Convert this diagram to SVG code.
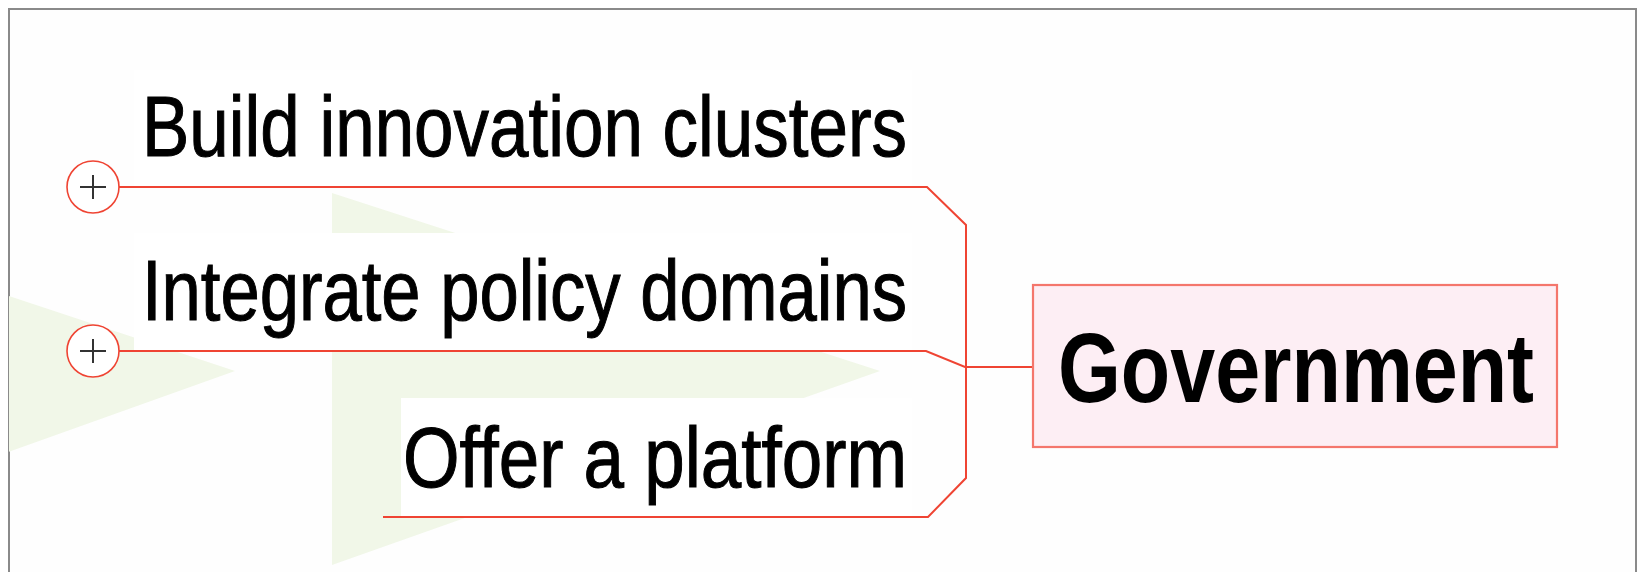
<svg xmlns="http://www.w3.org/2000/svg" width="1639" height="572" viewBox="0 0 1639 572">
  <style>
    .topic { font-family: "Liberation Sans", Arial, sans-serif; font-size: 71px; fill: #000; stroke: #000; stroke-width: 0.9; }
    .central { font-family: "Liberation Sans", Arial, sans-serif; font-size: 81px; font-weight: bold; fill: #000; }
    .conn { fill: none; stroke: #ef4433; stroke-width: 2; }
    .bg-rect { fill: #ffffff; }
    .toggle circle { fill: #ffffff; stroke: #ef4433; stroke-width: 1.6; }
    .toggle path { stroke: #333333; stroke-width: 2; fill: none; }
    .deco { fill: #f1f7e8; }
  </style>
  <defs>
    <clipPath id="frame">
      <rect x="9" y="9" width="1627" height="600"/>
    </clipPath>
  </defs>
  <rect x="0" y="0" width="1639" height="572" fill="#ffffff"/>
  <rect x="9" y="9" width="1627" height="600" fill="#fefefe" stroke="#8a8a8a" stroke-width="2"/>
  <g id="decoration" clip-path="url(#frame)">
    <polygon class="deco" points="0,293 235,371 0,455"/>
    <polygon class="deco" points="332,193 880,371 332,565"/>
  </g>
  <g id="connectors">
    <path class="conn" d="M119,187 H927 L966,225 V478 L928,517 H383"/>
    <path class="conn" d="M119,351 H926 L965,367 H1033"/>
  </g>
  <g id="node-build">
    <rect class="bg-rect" x="134" y="70" width="778" height="116"/>
    <text class="topic" transform="translate(142,156) scale(1,1.2)" x="0" y="0" textLength="765" lengthAdjust="spacingAndGlyphs">Build innovation clusters</text>
    <path class="conn" d="M119,187 H927"/>
  </g>
  <g id="node-integrate">
    <rect class="bg-rect" x="134" y="233" width="778" height="117"/>
    <text class="topic" transform="translate(142,320) scale(1,1.2)" x="0" y="0" textLength="765" lengthAdjust="spacingAndGlyphs">Integrate policy domains</text>
    <path class="conn" d="M119,351 H926"/>
  </g>
  <g id="node-offer">
    <rect class="bg-rect" x="401" y="398" width="511" height="118"/>
    <text class="topic" transform="translate(403,487) scale(1,1.2)" x="0" y="0" textLength="504" lengthAdjust="spacingAndGlyphs">Offer a platform</text>
    <path class="conn" d="M383,517 H928"/>
  </g>
  <g id="toggle-build" class="toggle">
    <circle cx="93" cy="187" r="26"/>
    <path d="M80,187 H106 M93,175 V199"/>
  </g>
  <g id="toggle-integrate" class="toggle">
    <circle cx="93" cy="351" r="26"/>
    <path d="M80,351 H106 M93,339 V363"/>
  </g>
  <g id="node-government">
    <rect x="1033" y="285" width="524" height="162" fill="#fdeef4" stroke="#f4766c" stroke-width="2.2"/>
    <text class="central" transform="translate(1058,402) scale(1,1.22)" x="0" y="0" textLength="476" lengthAdjust="spacingAndGlyphs">Government</text>
  </g>
</svg>
